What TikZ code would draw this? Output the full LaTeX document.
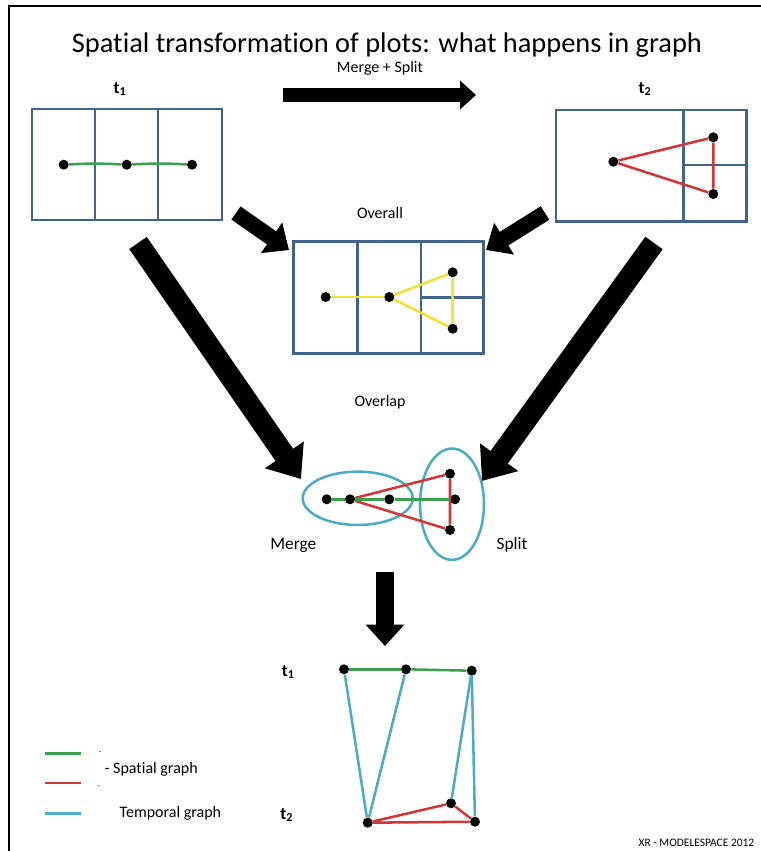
\documentclass[tikz,border=0pt]{standalone}
\usepackage{fontspec}
\setmainfont[Ligatures=NoCommon]{Carlito}
\usetikzlibrary{arrows.meta,shapes.geometric}
\definecolor{boxblue}{RGB}{66,100,138}
\definecolor{sgreen}{RGB}{58,160,80}
\definecolor{sred}{RGB}{210,55,55}
\definecolor{syellow}{RGB}{238,226,52}
\definecolor{tblue}{RGB}{75,172,198}
\begin{document}
\begin{tikzpicture}[x=0.75pt,y=-0.75pt,
  plotbox/.style={draw=boxblue,line width=1.9pt},
  dot/.style={circle,fill=black,inner sep=0pt,minimum size=7.5pt},
  gline/.style={draw=sgreen,line width=1.9pt},
  rline/.style={draw=sred,line width=1.9pt},
  yline/.style={draw=syellow,line width=1.9pt},
  bline/.style={draw=tblue,line width=1.9pt},
  ring/.style={draw=tblue,line width=1.9pt,ellipse,inner sep=0pt},
  label/.style={font=\fontsize{12}{14}\selectfont},
  tlabel/.style={font=\bfseries\fontsize{13}{15}\selectfont},
]
\useasboundingbox (0,0) rectangle (761,851);
\fill[white] (0,0) rectangle (761,851);
% frame
\draw[line width=1.5pt] (9,851) -- (9,6) -- (761,6);

% title
\node[font=\fontsize{21.3}{25}\selectfont] (title) at (387,45) {Spatial transformation of plots: what happens in graph};
\node[label] (mslabel) at (380,68) {Merge + Split};
\node[tlabel] (t1) at (120,89) {t\textsubscript{1}};
\node[tlabel] (t2) at (645,89) {t\textsubscript{2}};

% horizontal arrow
\coordinate (h1) at (283,95);
\coordinate (h2) at (476,95);
\draw[line width=10.5pt,-{Triangle[width=21pt,length=12pt]}] (h1) -- (h2);

% t1 box
\draw[plotbox] (32,109) rectangle (222,220);
\draw[plotbox] (95,109) -- (95,220);
\draw[plotbox] (158,109) -- (158,220);
\node[dot] (a1) at (63.7,164.7) {};
\node[dot] (a2) at (126.7,164.7) {};
\node[dot] (a3) at (192,164.7) {};
\draw[gline] (a1) to[bend left=3] (a2);
\draw[gline] (a2) to[bend left=3] (a3);

% t2 box
\draw[plotbox] (556,110) rectangle (746.7,221.7);
\draw[plotbox] (683.3,110) -- (683.3,221.7);
\draw[plotbox] (683.3,165) -- (746.7,165);
\node[dot] (d1) at (613.3,161.7) {};
\node[dot] (d2) at (713.3,137.3) {};
\node[dot] (d3) at (713.3,194) {};
\draw[rline] (d1) -- (d2) -- (d3) -- (d1);

% overall
\node[label] (overall) at (380,212.7) {Overall};
\draw[plotbox] (293.3,241.7) rectangle (483.3,353.3);
\draw[plotbox] (357.3,241.7) -- (357.3,353.3);
\draw[plotbox] (421,241.7) -- (421,353.3);
\draw[plotbox] (421,297.3) -- (483.3,297.3);
\node[dot] (o1) at (325.7,297) {};
\node[dot] (o2) at (389.3,297) {};
\node[dot] (o3) at (452.7,272.3) {};
\node[dot] (o4) at (452.7,328.7) {};
\draw[yline] (o1) -- (o2);
\draw[yline] (o2) -- (o3) -- (o4) -- (o2);

% small diagonal arrows
\coordinate (s1a) at (236,213);
\coordinate (s1b) at (289,250);
\draw[line width=12pt,-{Triangle[width=27pt,length=16pt]}] (s1a) -- (s1b);
\coordinate (s2a) at (545,213);
\coordinate (s2b) at (486,250);
\draw[line width=12pt,-{Triangle[width=27pt,length=16pt]}] (s2a) -- (s2b);

% big diagonal arrows
\coordinate (L1) at (138,243);
\coordinate (L2) at (301,479);
\draw[line width=16pt,-{Triangle[width=34pt,length=22pt]}] (L1) -- (L2);
\coordinate (R1) at (654,243);
\coordinate (R2) at (482,481);
\draw[line width=16pt,-{Triangle[width=34pt,length=22pt]}] (R1) -- (R2);

\node[label] (overlap) at (380,402) {Overlap};

% overlap graph
\node[ring,minimum width=82.5pt,minimum height=40pt] (mergeE) at (357.7,498.3) {};
\node[ring,minimum width=48pt,minimum height=83.5pt] (splitE) at (452,504.2) {};
\node[dot] (m1) at (326.7,499.3) {};
\node[dot] (m2) at (350,499.3) {};
\node[dot] (m3) at (389.3,499.3) {};
\node[dot] (m4) at (455,499.3) {};
\node[dot] (m5) at (450,473.7) {};
\node[dot] (m6) at (450,530) {};
\draw[rline] (m2) -- (m5) -- (m6) -- (m2);
\draw[gline] (m1) -- (m2) -- (m3) -- (m4);
\node[font=\fontsize{13}{15}\selectfont] (mergelbl) at (293.3,545) {Merge};
\node[font=\fontsize{13}{15}\selectfont] (splitlbl) at (512,545) {Split};

% down arrow
\coordinate (D1) at (385,572);
\coordinate (D2) at (385,646);
\draw[line width=13.5pt,-{Triangle[width=28pt,length=16pt]}] (D1) -- (D2);

% bottom graph
\node[tlabel] (bt1) at (288.3,672) {t\textsubscript{1}};
\node[tlabel] (bt2) at (286.7,815) {t\textsubscript{2}};
\node[dot] (b1) at (344,669.3) {};
\node[dot] (b2) at (406,669.3) {};
\node[dot] (b3) at (471.7,670.7) {};
\node[dot] (c1) at (367.7,822.7) {};
\node[dot] (c2) at (451,803.3) {};
\node[dot] (c3) at (475,821.7) {};
\draw[bline] (b1) -- (c1);
\draw[bline] (b2) -- (c1);
\draw[bline] (b3) -- (c2);
\draw[bline] (b3) -- (c3);
\draw[rline] (c1) -- (c2) -- (c3) -- (c1);
\draw[gline] (b1) -- (b2);
\draw[gline] (b2) -- (b3);

% legend
\coordinate (lg1) at (45,753.3); \coordinate (lg2) at (81,753.3);
\coordinate (lr1) at (45,782.7); \coordinate (lr2) at (81,782.7);
\coordinate (lb1) at (45,813.3); \coordinate (lb2) at (81,813.3);
\draw[draw=sgreen,line width=1.8pt] (lg1) -- (lg2);
\draw[draw=sred,line width=1.8pt] (lr1) -- (lr2);
\draw[draw=tblue,line width=1.8pt] (lb1) -- (lb2);
\draw[line width=0.5pt,gray] (99,751.5) -- (101,751.5);
\draw[line width=0.5pt,gray] (97,786) -- (100,785.5);
\node[label,anchor=west] (spat) at (100,769) {- Spatial graph};
\node[label,anchor=west] (temp) at (115,813.3) {Temporal graph};

% credit
\node[anchor=east,font=\fontsize{8.6}{10}\selectfont] (credit) at (759,843) {XR - MODELESPACE 2012};
\end{tikzpicture}
\end{document}
